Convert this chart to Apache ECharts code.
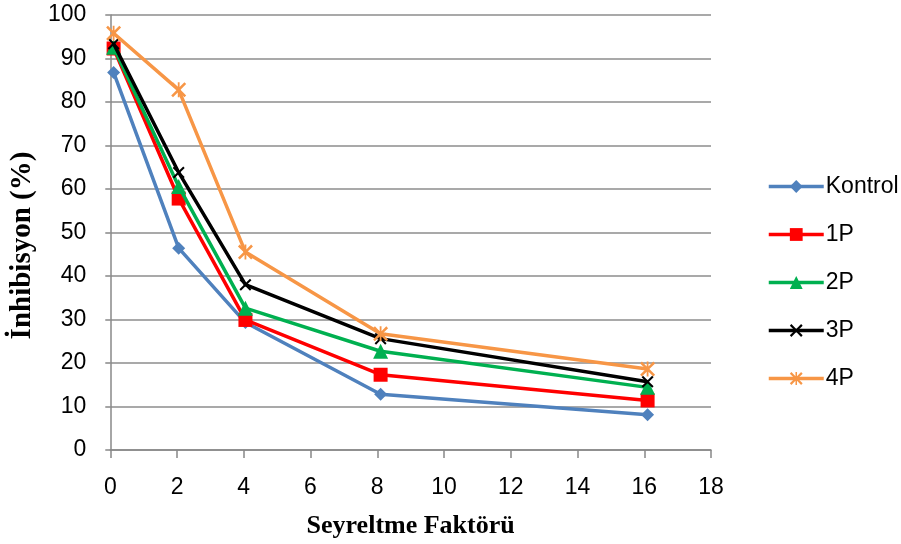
<!DOCTYPE html>
<html>
<head>
<meta charset="utf-8">
<script src="https://cdn.jsdelivr.net/npm/echarts@6/dist/echarts.min.js"></script>
<style>html,body{margin:0;padding:0;background:#fff}#c{width:901px;height:544px}</style>
</head>
<body>
<div id="c"></div>
<script>
const xValues = [0.1, 2.05, 4.05, 8.1, 16.1];
const kontrol = [86.8, 46.4, 29.3, 12.8, 8.1];
const p1 = [92.3, 57.8, 29.9, 17.3, 11.4];
const p2 = [92.6, 60.6, 32.6, 22.7, 14.4];
const p3 = [93.4, 63.8, 38.0, 25.6, 15.7];
const p4 = [95.8, 82.8, 45.5, 26.7, 18.6];
const seriesNames = ['Kontrol', '1P', '2P', '3P', '4P'];
const xTicks = [0, 2, 4, 6, 8, 10, 12, 14, 16, 18];

const crossPath = 'path://M0,1.2L1.2,0L5,3.8L8.8,0L10,1.2L6.2,5L10,8.8L8.8,10L5,6.2L1.2,10L0,8.8L3.8,5Z';
const starPath = 'path://M0,1.2L1.2,0L4.4,3.2L4.4,0L5.6,0L5.6,3.2L8.8,0L10,1.2L6.2,5L10,8.8L8.8,10L5.6,6.8L5.6,10L4.4,10L4.4,6.8L1.2,10L0,8.8L3.8,5Z';

const colors = ['#4F81BD', '#FF0000', '#00B050', '#000000', '#F79646'];
const symbols = ['diamond', 'rect', 'triangle', crossPath, starPath];
const sizes = [13, 14, 15, 12, 15];
const allData = [kontrol, p1, p2, p3, p4];

const chart = echarts.init(document.getElementById('c'));
chart.setOption({
  animation: false,
  backgroundColor: '#fff',
  grid: { left: 110, right: 190, top: 15, bottom: 92 },
  legend: {
    orient: 'vertical',
    left: 762, top: 170,
    itemWidth: 55, itemHeight: 16, itemGap: 25,
    lineStyle: { width: 3.5 },
    textStyle: { fontFamily: 'Liberation Sans', fontSize: 23, color: '#000', padding: [0, 0, 0, -3] },
    data: seriesNames
  },
  xAxis: {
    type: 'value', min: 0, max: 18, interval: 2,
    name: 'Seyreltme Faktörü', nameLocation: 'middle', nameGap: 63,
    nameTextStyle: { fontFamily: 'Liberation Serif', fontWeight: 'bold', fontSize: 26, color: '#000' },
    axisLine: { show: true, lineStyle: { color: '#888', width: 1.5 } },
    axisTick: { show: true, length: 8, lineStyle: { color: '#888', width: 1.5 } },
    axisLabel: { margin: 26, fontFamily: 'Liberation Sans', fontSize: 23, color: '#000' },
    splitLine: { show: false }
  },
  yAxis: {
    type: 'value', min: 0, max: 100, interval: 10,
    name: 'İnhibisyon (%)', nameLocation: 'middle', nameGap: 70, nameRotate: 90,
    nameTextStyle: { fontFamily: 'Liberation Serif', fontWeight: 'bold', fontSize: 29, color: '#000', padding: [0, 26, 0, 0] },
    axisLine: { show: true, lineStyle: { color: '#888', width: 1.5 } },
    axisTick: { show: true, length: 5, lineStyle: { color: '#888', width: 1.5 } },
    axisLabel: { margin: 24, fontFamily: 'Liberation Sans', fontSize: 23, color: '#000' },
    splitLine: { show: true, lineStyle: { color: '#8c8c8c', width: 1.5 } }
  },
  series: seriesNames.map((n, i) => ({
    name: n,
    type: 'line',
    data: xValues.map((x, j) => [x, allData[i][j]]),
    symbol: symbols[i],
    symbolSize: sizes[i],
    showAllSymbol: true,
    lineStyle: { color: colors[i], width: 3.5 },
    itemStyle: { color: colors[i] },
    z: 2 + i
  }))
});
</script>
</body>
</html>
